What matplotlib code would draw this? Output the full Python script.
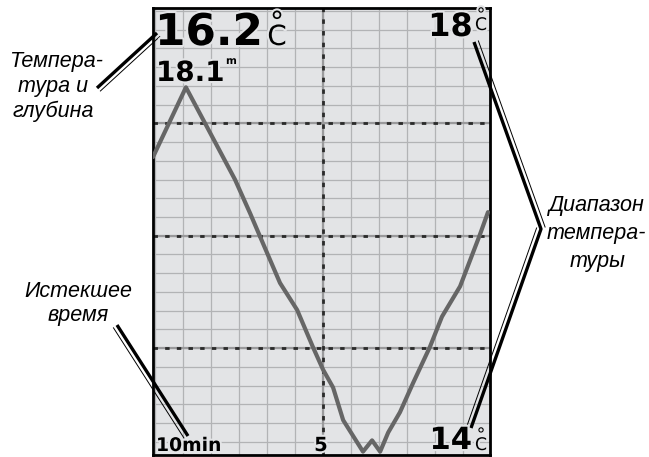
import numpy as np
import matplotlib
matplotlib.use("Agg")
import matplotlib.pyplot as plt
import matplotlib.patheffects as pe

# ---------------- data ----------------
minutes_ago = [10.07, 9.09, 7.63, 7.18, 6.88, 6.29, 5.78, 5.31, 5.01, 4.71, 4.41,
               3.82, 3.55, 3.31, 3.07, 2.72, 2.33, 1.83, 1.47, 1.17, 0.93, 0.34, 0.10]
temp_c = [16.70, 17.32, 16.50, 16.20, 15.99, 15.58, 15.34, 15.01, 14.81, 14.65, 14.36,
          14.08, 14.18, 14.08, 14.25, 14.43, 14.69, 15.01, 15.28, 15.43, 15.55, 16.01, 16.21]

current_temp = "16.2"
current_depth = "18.1"
range_max = "18"
range_min = "14"
time_span = "10min"
time_mid = "5"
label_temp_depth = ["Темпера-", "тура и", "глубина"]
label_elapsed = ["Истекшее", "время"]
label_range = ["Диапазон", "темпера-", "туры"]

major_y = [15, 16, 17]
major_x = [5]

W, H = 649, 457
BG = "#e3e4e6"

fig = plt.figure(figsize=(W / 100, H / 100), dpi=100)
fig.patch.set_facecolor("white")

# panel in pixels: x 153..490, y 7.5..455
pl, pr, pt, pb = 153, 490, 7.5, 455
ax = fig.add_axes([pl / W, (H - pb) / H, (pr - pl) / W, (pb - pt) / H])
ax.set_facecolor(BG)
ax.set_xlim(10.07, 0.04)
ax.set_ylim(14.05, 18.03)
ax.set_xticks([])
ax.set_yticks([])
for s in ax.spines.values():
    s.set_linewidth(2.0)
    s.set_color("black")

# minor grid
for xv in np.linspace(0, 10, 13):
    ax.axvline(xv, color="#b2b3b5", lw=0.9, zorder=1)
for yv in np.linspace(14, 18, 25):
    ax.axhline(yv, color="#b2b3b5", lw=0.9, zorder=1)
# major dashed lines
for yv in major_y:
    ax.axhline(yv, color="#9a9a9c", lw=1.6, zorder=2)
    ax.axhline(yv, color="#2a2a2a", lw=2.0, ls=(0, (1.6, 2.6)), zorder=2)
for xv in major_x:
    ax.axvline(xv, color="#9a9a9c", lw=1.6, zorder=2)
    ax.axvline(xv, color="#2a2a2a", lw=2.0, ls=(0, (1.6, 2.6)), zorder=2)

ax.plot(minutes_ago, temp_c, color="#666666", lw=3.0, solid_capstyle="round",
        solid_joinstyle="round", zorder=3)

# overlay in pixel coordinates
ov = fig.add_axes([0, 0, 1, 1], zorder=5)
ov.set_xlim(0, W)
ov.set_ylim(H, 0)
ov.axis("off")
ov.patch.set_alpha(0)

halo = [pe.withStroke(linewidth=3, foreground=BG)]
bold = dict(family="DejaVu Sans", fontweight="bold", color="black", va="baseline",
            path_effects=halo)
reg = dict(family="DejaVu Sans", color="black", va="baseline", ha="center",
           multialignment="center", path_effects=halo)

ov.text(155, 45, current_temp, fontsize=31.5, ha="left", **bold)
ov.text(277, 45, "°\nC", fontsize=20, linespacing=0.36, **reg)
ov.text(156, 81, current_depth, fontsize=20, ha="left", **bold)
ov.text(226, 64, "m", fontsize=7.5, ha="left", **bold)

ov.text(473, 36, range_max, fontsize=23, ha="right", **bold)
ov.text(481, 30, "°\nC", fontsize=12.5, linespacing=0.42, **reg)

ov.text(472, 449, range_min, fontsize=22, ha="right", **bold)
ov.text(481, 450, "°\nC", fontsize=12.5, linespacing=0.42, **reg)

ov.text(156, 451, time_span, fontsize=13.5, ha="left", **bold)
ov.text(321, 451, time_mid, fontsize=14, ha="center", **bold)

lab = dict(family="Liberation Sans", style="italic",
           fontsize=15.5, color="black", va="baseline", ha="center")
for s, (x, y) in zip(label_temp_depth, [(56, 67), (53, 92), (53, 117)]):
    ov.text(x, y, s, **lab)
for s, (x, y) in zip(label_elapsed, [(78, 297), (78, 321)]):
    ov.text(x, y, s, **lab)
for s, (x, y) in zip(label_range, [(597, 211), (596, 239), (598, 267)]):
    ov.text(x, y, s, **lab)


def leader(pts, side):
    pts = np.asarray(pts, float)
    ov.plot(pts[:, 0], pts[:, 1], color="black", lw=2.4, solid_capstyle="butt")
    for (x0, y0), (x1, y1), sd in zip(pts[:-1], pts[1:], side):
        d = np.array([x1 - x0, y1 - y0])
        d /= np.hypot(*d)
        n = np.array([-d[1], d[0]]) * sd * 4.5
        ov.plot([x0 + n[0], x1 + n[0]], [y0 + n[1], y1 + n[1]], color="black",
                lw=0.7, solid_capstyle="butt")


leader([(97, 88), (157, 33)], [1])
leader([(117, 325), (188, 436)], [1])
leader([(474, 42), (541, 229), (471, 428)], [-1, 1])

fig.savefig("out.png", dpi=100, facecolor="white")
